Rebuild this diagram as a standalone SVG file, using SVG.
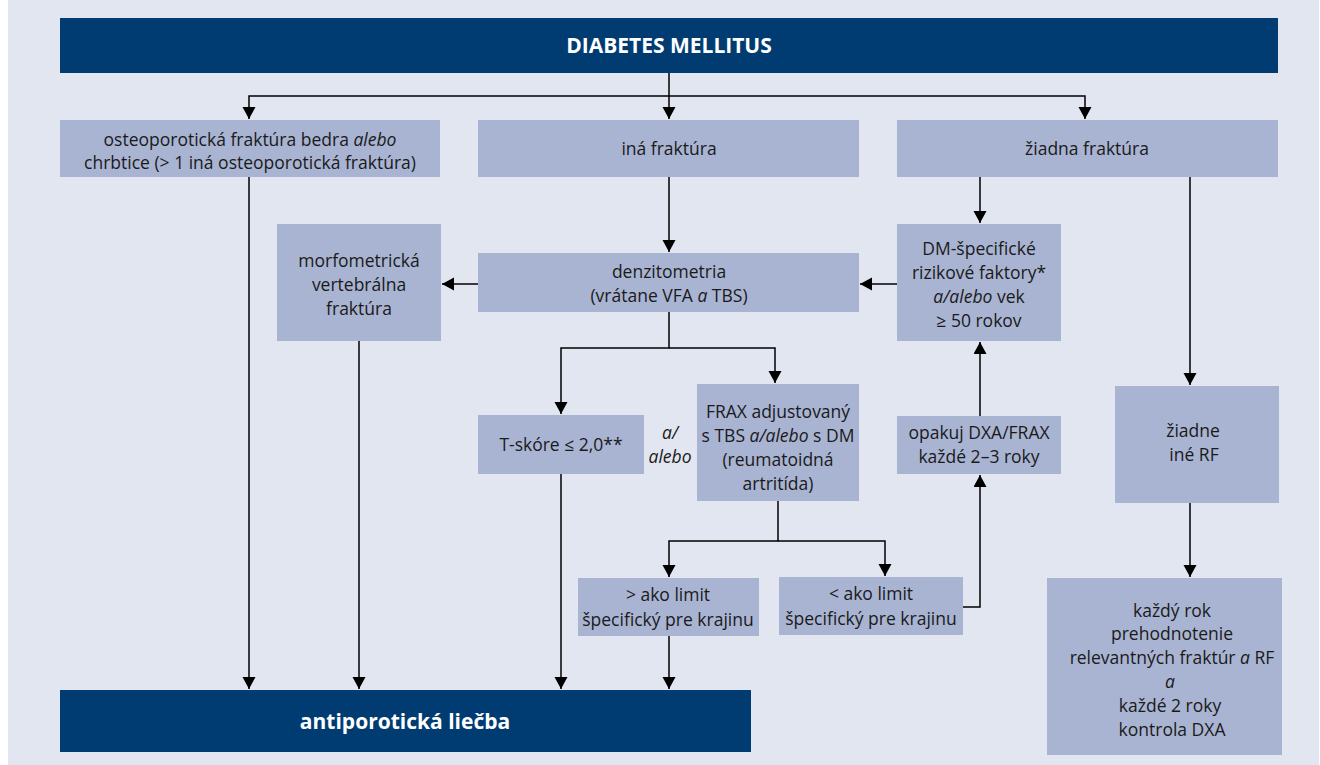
<svg xmlns="http://www.w3.org/2000/svg" width="1320" height="765" viewBox="0 0 1320 765">
<defs>
<marker id="ah" markerUnits="userSpaceOnUse" markerWidth="14" markerHeight="14" refX="12" refY="6.5" orient="auto">
<path d="M0,0 L12,6.5 L0,13 Z" fill="#000"/>
</marker>
<style>
.bg{fill:#e2e6f1}
.dark{fill:#003c71}
.box{fill:#a9b4d3}
.t{font-family:"Open Sans","Liberation Sans",sans-serif;font-size:17.5px;fill:#1a1a1a;text-anchor:middle}
.tw{font-family:"Open Sans","Liberation Sans",sans-serif;font-weight:bold;fill:#fff;text-anchor:middle}
.i{font-style:italic}
.c{fill:none;stroke:#000;stroke-width:1.5}
</style>
</defs>
<rect x="0" y="0" width="1320" height="765" fill="#fff"/>
<rect class="bg" x="8" y="0" width="1311" height="765"/>

<g id="connectors">
<path class="c" d="M669,72 V119" marker-end="url(#ah)"/>
<path class="c" d="M669,96 H249 V119" marker-end="url(#ah)"/>
<path class="c" d="M669,96 H1085 V119" marker-end="url(#ah)"/>
<path class="c" d="M249,177 V689" marker-end="url(#ah)"/>
<path class="c" d="M669,177 V252" marker-end="url(#ah)"/>
<path class="c" d="M478,284 H442" marker-end="url(#ah)"/>
<path class="c" d="M897,284 H860" marker-end="url(#ah)"/>
<path class="c" d="M359,341 V689" marker-end="url(#ah)"/>
<path class="c" d="M980,177 V223" marker-end="url(#ah)"/>
<path class="c" d="M1190,177 V385" marker-end="url(#ah)"/>
<path class="c" d="M1190,503 V577" marker-end="url(#ah)"/>
<path class="c" d="M669,312 V348 H561 V414" marker-end="url(#ah)"/>
<path class="c" d="M669,348 H775 V383" marker-end="url(#ah)"/>
<path class="c" d="M561,474 V689" marker-end="url(#ah)"/>
<path class="c" d="M778,501 V541 H669 V577" marker-end="url(#ah)"/>
<path class="c" d="M778,541 H885 V576" marker-end="url(#ah)"/>
<path class="c" d="M669,636 V689" marker-end="url(#ah)"/>
<path class="c" d="M963,607 H980 V475" marker-end="url(#ah)"/>
<path class="c" d="M980,416 V342" marker-end="url(#ah)"/>
</g>

<g id="diabetes">
<rect class="dark" x="60" y="18" width="1218" height="55"/>
<text class="tw" x="669" y="53" font-size="21">DIABETES MELLITUS</text>
</g>

<g id="osteo">
<rect class="box" x="60" y="120" width="380" height="57"/>
<text class="t" x="250" y="146">osteoporotická fraktúra bedra <tspan class="i">alebo</tspan></text>
<text class="t" x="250" y="169">chrbtice (&gt; 1 iná osteoporotická fraktúra)</text>
</g>

<g id="ina">
<rect class="box" x="478" y="120" width="381" height="57"/>
<text class="t" x="669" y="155">iná fraktúra</text>
</g>

<g id="ziadna">
<rect class="box" x="897" y="120" width="381" height="57"/>
<text class="t" x="1087" y="155">žiadna fraktúra</text>
</g>

<g id="morfo">
<rect class="box" x="277" y="224" width="164" height="117"/>
<text class="t" x="359" y="267">morfometrická</text>
<text class="t" x="359" y="291">vertebrálna</text>
<text class="t" x="359" y="315">fraktúra</text>
</g>

<g id="denzito">
<rect class="box" x="478" y="253" width="381" height="59"/>
<text class="t" x="669" y="278">denzitometria</text>
<text class="t" x="669" y="302">(vrátane VFA <tspan class="i">a</tspan> TBS)</text>
</g>

<g id="dmrf">
<rect class="box" x="897" y="224" width="164" height="117"/>
<text class="t" x="979" y="255">DM-špecifické</text>
<text class="t" x="979" y="279">rizikové faktory*</text>
<text class="t" x="979" y="303"><tspan class="i">a/alebo</tspan> vek</text>
<text class="t" x="979" y="327">≥ 50 rokov</text>
</g>

<g id="tskore">
<rect class="box" x="478" y="415" width="166" height="59"/>
<text class="t" x="561" y="451">T-skóre ≤ 2,0**</text>
</g>

<g id="aalebo">
<text class="t i" x="670" y="439">a/</text>
<text class="t i" x="670" y="463">alebo</text>
</g>

<g id="frax">
<rect class="box" x="697" y="384" width="162" height="117"/>
<text class="t" x="778" y="418">FRAX adjustovaný</text>
<text class="t" x="778" y="442">s TBS <tspan class="i">a/alebo</tspan> s DM</text>
<text class="t" x="778" y="466">(reumatoidná</text>
<text class="t" x="778" y="490">artritída)</text>
</g>

<g id="opakuj">
<rect class="box" x="897" y="416" width="164" height="58"/>
<text class="t" x="979" y="439">opakuj DXA/FRAX</text>
<text class="t" x="979" y="463">každé 2–3 roky</text>
</g>

<g id="ziadneRF">
<rect class="box" x="1115" y="386" width="164" height="117"/>
<text class="t" x="1193" y="437">žiadne</text>
<text class="t" x="1194" y="461">iné RF</text>
</g>

<g id="nadlimit">
<rect class="box" x="578" y="578" width="181" height="58"/>
<text class="t" x="668" y="601">&gt; ako limit</text>
<text class="t" x="668" y="626">špecifický pre krajinu</text>
</g>

<g id="podlimit">
<rect class="box" x="779" y="577" width="184" height="58"/>
<text class="t" x="871" y="600">&lt; ako limit</text>
<text class="t" x="871" y="625">špecifický pre krajinu</text>
</g>

<g id="kazdyrok">
<rect class="box" x="1047" y="578" width="235" height="177"/>
<text class="t" x="1172" y="617">každý rok</text>
<text class="t" x="1172" y="640">prehodnotenie</text>
<text class="t" x="1172" y="664">relevantných fraktúr <tspan class="i">a</tspan> RF</text>
<text class="t i" x="1170" y="688">a</text>
<text class="t" x="1170" y="712">každé 2 roky</text>
<text class="t" x="1172" y="736">kontrola DXA</text>
</g>

<g id="antiporoticka">
<rect class="dark" x="60" y="690" width="691" height="62"/>
<text class="tw" x="405" y="729" font-size="21">antiporotická liečba</text>
</g>
</svg>
